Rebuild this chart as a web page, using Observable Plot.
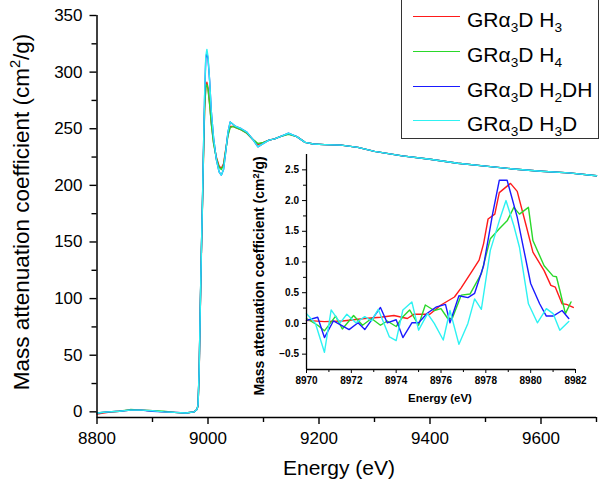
<!DOCTYPE html>
<html><head><meta charset="utf-8">
<script src="https://cdn.jsdelivr.net/npm/d3@7"></script>
<script src="https://cdn.jsdelivr.net/npm/@observablehq/plot@0.6"></script>
<style>
html,body{margin:0;padding:0;background:#fff;}
#wrap{position:relative;width:600px;height:482px;overflow:hidden;font-family:"Liberation Sans",Arial,sans-serif;color:#000;}
#wrap svg{position:absolute;}
.t{position:absolute;white-space:nowrap;line-height:1;}
sub{font-size:0.65em;vertical-align:-0.38em;line-height:0;}
sup{font-size:0.65em;vertical-align:0.6em;line-height:0;}
</style></head><body><div id="wrap"></div>
<script>
// ---- series names / colours ----
const seriesNames = ["GRα<sub>3</sub>D H<sub>3</sub>", "GRα<sub>3</sub>D H<sub>4</sub>", "GRα<sub>3</sub>D H<sub>2</sub>DH", "GRα<sub>3</sub>D H<sub>3</sub>D"];
const seriesColors = ["#ff1a1a", "#2ad82a", "#1a1aff", "#2ef2f2"];

// ---- main spectrum (eV, cm^2/g) ----
const mainEnergy = [8800,8820,8840,8860,8880,8900,8920,8940,8960,8975,8980,8982,8984,8986,8988,8990,8992,8994,8996,8998,9000,9003,9006,9010,9015,9020,9024,9028,9032,9036,9040,9045,9050,9060,9070,9080,9090,9100,9110,9120,9130,9145,9160,9175,9190,9210,9240,9270,9300,9350,9400,9450,9500,9550,9600,9650,9700];
const mainH3   = [-2,-0.5,0.5,1.5,1.5,1,0,-0.5,-1,0,2,5,33,88,138,182,228,268,286,291,286,272,255,238,225,217,215,219,232,245,252,252,251,249,246,241,236,238,240,241,243,245.5,243,238,236.5,236,235.5,233.5,230,226,223,219.5,217,214.5,212.5,211,208.5];
const mainH4   = [-1,0,0.5,2,1.5,1,0.5,-0.5,-1,0,2,6,34,90,140,184,230,270,287,289,285,271,254,237,224,216,214,218,231,244,251,252,251,249,246,241,237,238,240,241,243,245,243,238,236.5,236,235.5,233.5,230,226,223,219.5,217,214.5,212.5,211,208.5];
const mainH2DH = [-1,0,0.5,1.5,1.5,0.5,0,-0.5,-1,0,2,6,35,90,140,185,235,280,312,317,312,292,265,242,223,212,209,214,230,247,256,254,252,250,247,241,234,237,240,241,243,246,243,238,236.5,236,235.5,233.5,230,226,223,219.5,217,214.5,212.5,211,208.5];
const mainH3D  = [-1,0,0.5,1.5,1.5,1,0,-0.5,-1,0,2,6,35,90,140,185,235,282,314,320,314,292,265,242,223,212,209,214,230,247,256,254,252,250,247,241,234,237,240,241,243,246,243,238,236.5,236,235.5,233.5,230,226,223,219.5,217,214.5,212.5,211,208.5];

// ---- inset (pre-edge) ----
const insetEH3 = [8970,8970.8,8971.6,8972.6,8973.3,8973.9,8974.5,8974.8,8975.5,8976,8976.6,8976.9,8977.4,8977.7,8977.9,8978.1,8978.4,8978.6,8979.1,8979.4,8979.8,8980.1,8980.6,8980.9,8981.1,8981.4,8981.6,8981.9];
const insetH3  = [0.05,0.03,0.04,0.08,0.10,0.13,0.08,0.15,0.15,0.30,0.43,0.58,0.86,1.03,1.30,1.70,1.78,2.13,2.28,2.15,1.59,1.16,0.86,0.62,0.59,0.32,0.31,0.26];
const insetEH4 = [8970,8970.5,8970.8,8971.3,8971.6,8972.1,8972.5,8972.9,8973.3,8973.6,8974,8974.3,8974.6,8975,8975.3,8975.7,8976,8976.3,8976.5,8976.9,8977.3,8977.8,8978.2,8978.6,8978.95,8979.25,8979.5,8979.9,8980.1,8980.6,8981,8981.15,8981.3,8981.55,8981.8];
const insetH4  = [0.08,-0.03,-0.12,0.12,-0.09,0.13,-0.03,0.08,-0.03,0.04,-0.05,0.11,0.22,-0.03,0.30,0.21,0.24,0.08,0.08,0.46,0.48,0.81,1.38,1.54,1.67,1.89,1.78,1.89,1.35,0.94,0.77,0.76,0.54,0.16,0.35];
const insetEH2DH = [8970,8970.5,8970.8,8971.2,8971.9,8972.3,8972.6,8973.3,8973.6,8974,8974.3,8974.7,8975,8975.4,8975.8,8976.2,8976.4,8976.8,8977.2,8977.5,8977.9,8978.3,8978.6,8978.95,8979.4,8979.7,8980,8980.4,8980.7,8981,8981.4,8981.7];
const insetH2DH  = [0.05,0.10,-0.23,0.04,-0.10,0.01,-0.10,0.26,0.01,0.06,-0.23,0.01,0.01,0.17,0.27,0.31,0.01,0.45,0.42,0.49,0.94,1.78,2.33,2.33,1.73,1.19,0.65,0.32,0.12,0.12,0.21,0.08];
const insetEH3D = [8970,8970.4,8970.8,8971.1,8971.5,8971.8,8972.2,8972.6,8972.9,8973.2,8973.7,8974,8974.3,8974.7,8975,8975.4,8975.7,8976.1,8976.4,8976.8,8977.2,8977.5,8977.8,8978.2,8978.6,8978.9,8979.25,8979.5,8979.9,8980.3,8980.7,8981,8981.3,8981.7];
const insetH3D  = [0.16,0.00,-0.47,0.22,0.01,0.15,0.01,0.11,0.04,0.23,-0.22,-0.28,0.22,0.35,-0.11,0.16,0.00,-0.27,0.21,-0.34,0.00,0.40,0.23,1.19,1.67,2.00,1.59,1.24,0.32,0.01,0.24,0.16,-0.11,0.03];

// ---- axes ----
const xDomain = [8800, 9700];
const yDomain = [-5, 350];
const xMajor = [8800, 9000, 9200, 9400, 9600];
const xMinor = [8900, 9100, 9300, 9500, 9700];
const yMajor = [0, 50, 100, 150, 200, 250, 300, 350];
const yMinor = [25, 75, 125, 175, 225, 275, 325];
const ixDomain = [8970, 8982];
const iyDomain = [-0.75, 2.75];
const ixMajor = [8970, 8972, 8974, 8976, 8978, 8980, 8982];
const ixMinor = [8971, 8973, 8975, 8977, 8979, 8981];
const iyMajor = [-0.5, 0, 0.5, 1, 1.5, 2, 2.5];
const iyMinor = [-0.25, 0.25, 0.75, 1.25, 1.75, 2.25];

const xTitle = "Energy (eV)";
const yTitle = "Mass attenuation coefficient (cm<sup>2</sup>/g)";

const wrap = document.getElementById("wrap");
const zip = (xs, ys) => xs.map((x, i) => ({x, y: ys[i]}));
const mainSets = [mainH3, mainH4, mainH2DH, mainH3D].map(v => zip(mainEnergy, v));
const insetSets = [[insetEH3, insetH3], [insetEH4, insetH4], [insetEH2DH, insetH2DH], [insetEH3D, insetH3D]].map(([e, v]) => zip(e, v));

const main = Plot.plot({
  width: 600, height: 482,
  marginLeft: 96.5, marginRight: 4, marginTop: 15, marginBottom: 65,
  style: {fontFamily: "Liberation Sans, Arial, sans-serif", fontSize: "17px", color: "#000", background: "transparent", overflow: "visible"},
  x: {domain: xDomain},
  y: {domain: yDomain},
  marks: [
    ...mainSets.map((d, i) => Plot.line(d, {x: "x", y: "y", stroke: seriesColors[i], strokeWidth: 1.4})),
    Plot.ruleX([xDomain[0]], {strokeWidth: 1.5}),
    Plot.ruleY([yDomain[0]], {strokeWidth: 1.5}),
    Plot.axisX({ticks: xMajor, tickSize: 7, tickPadding: 7.5, tickFormat: d3.format("d"), label: null, strokeWidth: 1.4}),
    Plot.axisX({ticks: xMinor, tickSize: 5, tickFormat: () => "", label: null, strokeWidth: 1.4}),
    Plot.axisY({ticks: yMajor, tickSize: 7, tickPadding: 7.5, tickFormat: d3.format("d"), label: null, strokeWidth: 1.4}),
    Plot.axisY({ticks: yMinor, tickSize: 5, tickFormat: () => "", label: null, strokeWidth: 1.4})
  ]
});
main.style.left = "0px"; main.style.top = "0px";
wrap.appendChild(main);

const inset = Plot.plot({
  width: 350, height: 265,
  marginLeft: 66, marginRight: 15, marginTop: 9, marginBottom: 41,
  style: {fontFamily: "Liberation Sans, Arial, sans-serif", fontSize: "10px", fontWeight: "bold", color: "#000", background: "transparent", overflow: "visible"},
  x: {domain: ixDomain},
  y: {domain: iyDomain},
  marks: [
    ...insetSets.map((d, i) => Plot.line(d, {x: "x", y: "y", stroke: seriesColors[i], strokeWidth: 1.4})),
    Plot.ruleX([ixDomain[0]], {strokeWidth: 1.3}),
    Plot.ruleY([iyDomain[0]], {strokeWidth: 1.3}),
    Plot.axisX({ticks: ixMajor, tickSize: 4, tickPadding: 3.5, tickFormat: d3.format("d"), label: null}),
    Plot.axisX({ticks: ixMinor, tickSize: 3, tickFormat: () => "", label: null}),
    Plot.axisY({ticks: iyMajor, tickSize: 4, tickPadding: 3.5, tickFormat: d3.format(".1f"), label: null}),
    Plot.axisY({ticks: iyMinor, tickSize: 3, tickFormat: () => "", label: null})
  ]
});
inset.style.left = "240px"; inset.style.top = "145px";
wrap.appendChild(inset);

function addText(html, cx, cy, size, weight, rotate) {
  const d = document.createElement("div");
  d.className = "t";
  d.innerHTML = html;
  d.style.fontSize = size + "px";
  d.style.fontWeight = weight;
  d.style.left = cx + "px";
  d.style.top = cy + "px";
  d.style.transform = "translate(-50%,-50%)" + (rotate ? " rotate(-90deg)" : "");
  wrap.appendChild(d);
  return d;
}
// titles
addText(xTitle, 339, 466.7, 21, "normal", false);
addText(yTitle, 21.5, 212, 22.5, "normal", true);
addText(xTitle, 440, 399, 11.5, "bold", false);
addText(yTitle, 258.5, 276, 14, "bold", true);

// legend
const leg = document.createElement("div");
leg.style.cssText = "position:absolute;left:401px;top:-1px;width:196px;height:138px;border:1.5px solid #333;background:#fff;";
wrap.appendChild(leg);
const rowY = [17, 52, 87, 121];
seriesNames.forEach((n, i) => {
  const ln = document.createElement("div");
  ln.style.cssText = `position:absolute;left:11px;top:${rowY[i] - 0.75}px;width:47px;height:0;border-top:1.5px solid ${seriesColors[i]};`;
  leg.appendChild(ln);
  const tx = document.createElement("div");
  tx.className = "t";
  tx.style.cssText += `left:65px;top:${rowY[i] + 9.4 - 17.8}px;font-size:21px;`;
  tx.innerHTML = n;
  leg.appendChild(tx);
});
</script>
</body></html>
